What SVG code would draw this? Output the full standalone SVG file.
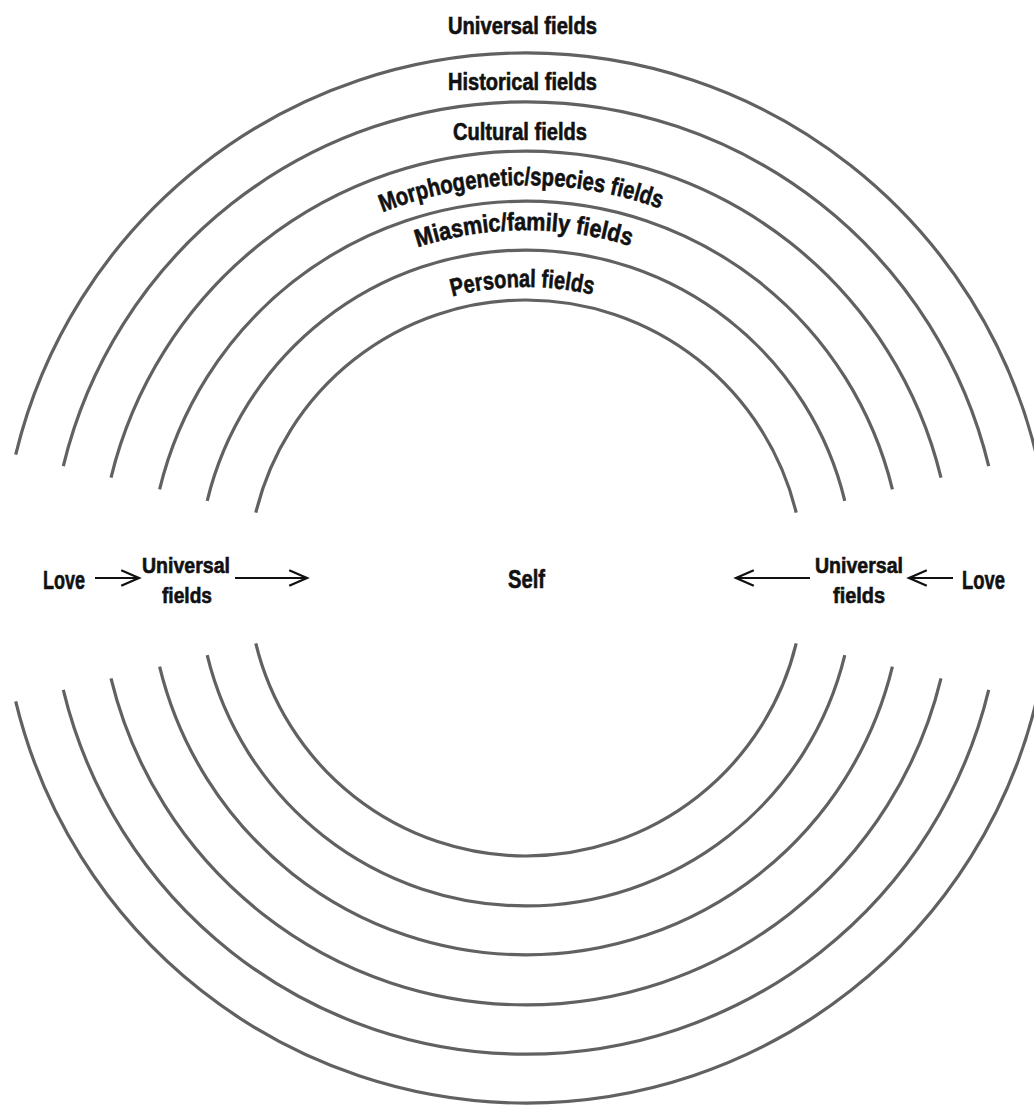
<svg xmlns="http://www.w3.org/2000/svg" width="1034" height="1105" viewBox="0 0 1034 1105">
<style>
.ring{fill:none;stroke:#616161;stroke-width:3.2}
.lbl{font-family:"Liberation Sans Narrow","Liberation Sans",Arial,sans-serif;font-weight:bold;fill:#111;stroke:#111;stroke-width:0.6}
.arr{stroke:#111;stroke-width:2;fill:none}
</style>
<defs>
<marker id="head" markerUnits="userSpaceOnUse" markerWidth="24" markerHeight="20" viewBox="-18 -9 20 18" refX="0" refY="0" orient="auto">
<path d="M-16,-7 L0,0 L-16,7" fill="none" stroke="#111" stroke-width="2"/>
</marker>
<path id="pMorph" d="M133,578 A393,393 0 0 1 919,578"/>
<path id="pMiasm" d="M178,578 A348,348 0 0 1 874,578"/>
<path id="pPers" d="M235,578 A291,291 0 0 1 817,578"/>
</defs>
<rect width="1034" height="1105" fill="#fff"/>
<g id="rings">
<g id="ring-personal">
<path class="ring" d="M255.8,512.6 A278,278 0 0 1 796.2,512.6"/>
<path class="ring" d="M255.8,643.4 A278,278 0 0 0 796.2,643.4"/>
</g>
<g id="ring-miasmic">
<path class="ring" d="M207.2,500.9 A328,328 0 0 1 844.8,500.9"/>
<path class="ring" d="M207.2,655.1 A328,328 0 0 0 844.8,655.1"/>
</g>
<g id="ring-morph">
<path class="ring" d="M159.6,489.4 A377,377 0 0 1 892.4,489.4"/>
<path class="ring" d="M159.6,666.6 A377,377 0 0 0 892.4,666.6"/>
</g>
<g id="ring-cultural">
<path class="ring" d="M111,477.6 A427,427 0 0 1 941,477.6"/>
<path class="ring" d="M111,678.4 A427,427 0 0 0 941,678.4"/>
</g>
<g id="ring-historical">
<path class="ring" d="M63.3,466.1 A476,476 0 0 1 988.7,466.1"/>
<path class="ring" d="M63.3,689.9 A476,476 0 0 0 988.7,689.9"/>
</g>
<g id="ring-universal">
<path class="ring" d="M15.7,454.6 A525,525 0 0 1 1036.3,454.6"/>
<path class="ring" d="M15.7,701.4 A525,525 0 0 0 1036.3,701.4"/>
</g>
</g>
<g id="ring-labels">
<text id="t-universal" class="lbl" x="522.5" y="34" font-size="23" text-anchor="middle" textLength="149" lengthAdjust="spacingAndGlyphs">Universal fields</text>
<text id="t-historical" class="lbl" x="522.5" y="90" font-size="23" text-anchor="middle" textLength="149" lengthAdjust="spacingAndGlyphs">Historical fields</text>
<text id="t-cultural" class="lbl" x="520" y="140" font-size="23" text-anchor="middle" textLength="134" lengthAdjust="spacingAndGlyphs">Cultural fields</text>
<text id="t-morph" class="lbl" font-size="25" text-anchor="middle"><textPath href="#pMorph" startOffset="49.6%" textLength="284" lengthAdjust="spacingAndGlyphs">Morphogenetic/species fields</textPath></text>
<text id="t-miasm" class="lbl" font-size="25" text-anchor="middle"><textPath href="#pMiasm" startOffset="49.8%" textLength="216" lengthAdjust="spacingAndGlyphs">Miasmic/family fields</textPath></text>
<text id="t-pers" class="lbl" font-size="25" text-anchor="middle"><textPath href="#pPers" startOffset="49.6%" textLength="142" lengthAdjust="spacingAndGlyphs">Personal fields</textPath></text>
</g>
<g id="node-self"><text class="lbl" x="526.5" y="588" font-size="26" text-anchor="middle" textLength="37" lengthAdjust="spacingAndGlyphs">Self</text></g>
<g id="node-love-left"><text class="lbl" x="64" y="589" font-size="25" text-anchor="middle" textLength="42" lengthAdjust="spacingAndGlyphs">Love</text></g>
<g id="node-uf-left">
<text class="lbl" x="186" y="573" font-size="22" text-anchor="middle" textLength="88" lengthAdjust="spacingAndGlyphs">Universal</text>
<text class="lbl" x="187" y="603" font-size="22" text-anchor="middle" textLength="50" lengthAdjust="spacingAndGlyphs">fields</text>
</g>
<g id="node-uf-right">
<text class="lbl" x="859" y="573" font-size="22" text-anchor="middle" textLength="88" lengthAdjust="spacingAndGlyphs">Universal</text>
<text class="lbl" x="859" y="603" font-size="22" text-anchor="middle" textLength="52" lengthAdjust="spacingAndGlyphs">fields</text>
</g>
<g id="node-love-right"><text class="lbl" x="983.5" y="589" font-size="25" text-anchor="middle" textLength="43" lengthAdjust="spacingAndGlyphs">Love</text></g>
<g id="connectors">
<line class="arr" x1="95" y1="578" x2="139" y2="578" marker-end="url(#head)"/>
<line class="arr" x1="235" y1="578" x2="307" y2="578" marker-end="url(#head)"/>
<line class="arr" x1="810" y1="578" x2="736" y2="578" marker-end="url(#head)"/>
<line class="arr" x1="953" y1="578" x2="909" y2="578" marker-end="url(#head)"/>
</g>
</svg>
